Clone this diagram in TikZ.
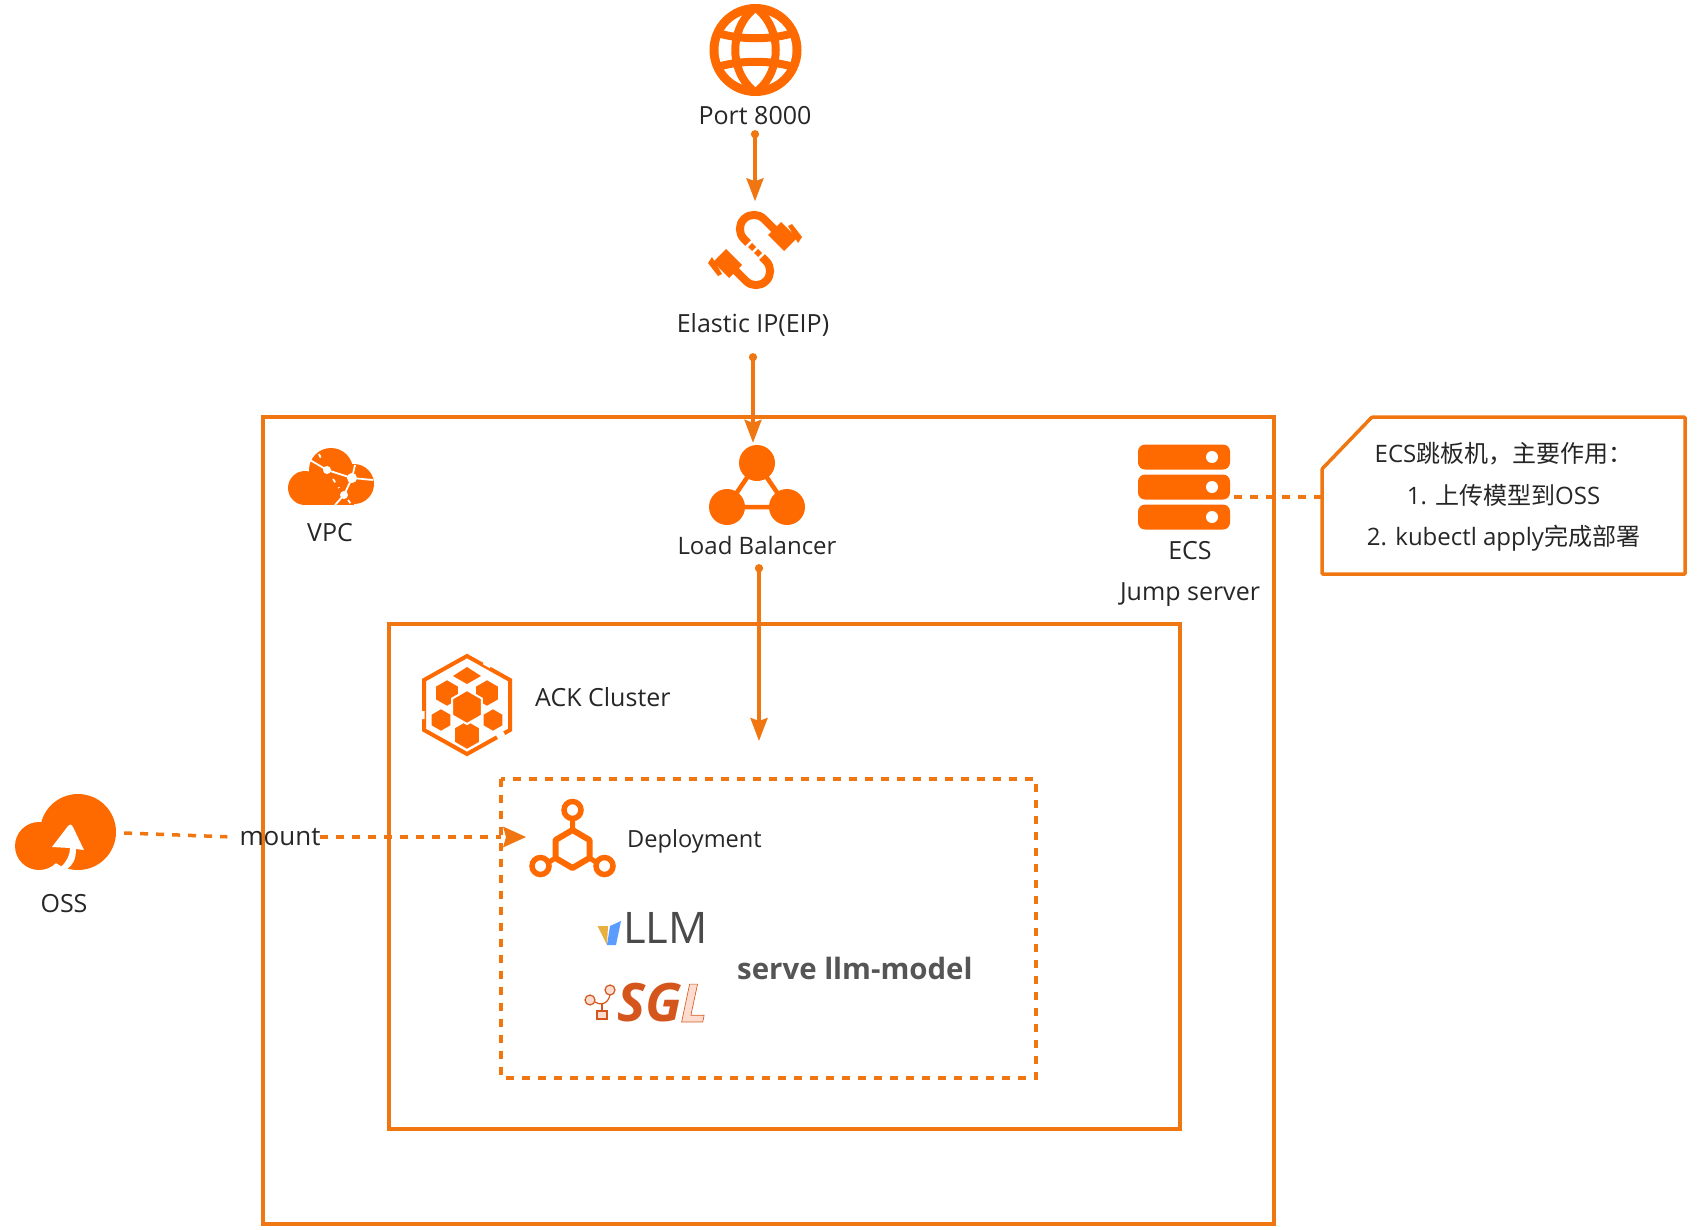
\documentclass[tikz,border=0pt]{standalone}
\usepackage{fontspec}
\usepackage{xcolor}
\usepackage{tikz}
\usetikzlibrary{positioning, arrows.meta}
\setmainfont{Open Sans}
\newfontfamily\cjk{Noto Sans CJK SC}
\newfontfamily\sglstroke[FakeBold=1.2]{Open Sans}
\definecolor{aliorange}{HTML}{FF6A00}
\definecolor{lineorange}{HTML}{EF7610}
\definecolor{labelgray}{HTML}{262626}
\definecolor{llmgray}{HTML}{4A4A4A}
\definecolor{servegray}{HTML}{555555}
\definecolor{sglred}{HTML}{D5561C}
\definecolor{sglpale}{HTML}{FBDCCF}
\definecolor{vyellow}{HTML}{E8B040}
\definecolor{vblue}{HTML}{5B9DFF}
\tikzset{
  framebox/.style={draw=lineorange, line width=3.5pt},
  dashbox/.style={draw=lineorange, line width=3.5pt, dash pattern=on 8pt off 8pt},
  flow/.style={draw=lineorange, line width=3.5pt,
    {Circle[length=8pt]}-{Stealth[length=23pt, width=17pt, inset=3pt]}},
  dashflow/.style={draw=lineorange, line width=3.5pt, dash pattern=on 8pt off 8pt},
  caption/.style={text=labelgray, font=\fontsize{25}{29}\selectfont, inner sep=0pt},
  iconspot/.style={inner sep=0pt},
  globe mark/.pic={
    \fill[aliorange] (0,0) circle (46);
    \fill[white] (0,0) circle (37);
    \draw[aliorange, line width=8pt] (-3,-40) .. controls (-26,-20) and (-26,20) .. (-3,40);
    \draw[aliorange, line width=8pt] (3,-40) .. controls (26,-20) and (26,20) .. (3,40);
    \draw[aliorange, line width=8pt] (-38,-17) .. controls (-15,-10) and (15,-10) .. (38,-17);
    \draw[aliorange, line width=8pt] (-38,17) .. controls (-15,10) and (15,10) .. (38,17);
  },
  eip mark/.pic={
    \foreach \turn in {0,180} {
      \begin{scope}[rotate=\turn]
        \draw[aliorange, line width=8pt] (-7,-7) -- (-11,-11)
          .. controls (-16.5,-16.5) and (-16.5,-25.5) .. (-11,-31)
          .. controls (-5.5,-36.5) and (3.5,-36.5) .. (9,-31) -- (20,-20);
        \fill[aliorange] (-3,-7) -- (1,-3) -- (-3,1) -- (-7,-3) -- cycle;
        \fill[aliorange] (13,-15) -- (26,-28) -- (42,-12) -- (29,1) -- cycle;
        \fill[aliorange] (33,-24) -- (37,-26) -- (47,-13) -- (43,-7) -- cycle;
      \end{scope}
    }
  },
  balancer mark/.pic={
    \draw[aliorange, line width=4.5pt] (0,-22) -- (-30,22) -- (30,22) -- cycle;
    \fill[aliorange] (0,-22) circle (18) (-30,22) circle (18) (30,22) circle (18);
  },
  vpc mark/.pic={
    \fill[aliorange] (-25,10) circle (17) (1,-8) circle (22) (24,6) circle (20);
    \fill[aliorange] (-25,8) rectangle (24,27);
    \draw[white, line width=1.8pt] (-20,-18) -- (-3,-8) -- (22,0) -- (14,17) -- (5,27);
    \draw[white, line width=1.8pt] (22,0) -- (43,2) (22,0) -- (25,-13);
    \fill[white] (-3,-8) circle (4) (22,0) circle (5) (14,17) circle (4);
    \draw[white, line width=1.8pt, dash pattern=on 4pt off 6pt] (-11,-24) -- (-7,-15) (3,1) -- (9,10) (18,22) -- (21,26);
  },
  server mark/.pic={
    \foreach \row in {-30,0,30} {
      \fill[aliorange, rounded corners=7pt] (-46,\row-12.5) rectangle (46,\row+12.5);
      \fill[white] (28,\row) circle (6);
    }
  },
  cluster mark/.pic={
    \draw[aliorange, line width=4pt] (0,-49) -- (43,-25) -- (43,25) -- (0,49) -- (-43,25) -- (-43,-25) -- cycle;
    \foreach \spotx/\spoty/\gapr in {-20/-12/14, 20/-12/14, -26/15/12, 26/15/12, 0/30/15, 0/2/17} {
      \fill[aliorange, draw=white, line width=2pt] (\spotx,\spoty-\gapr) -- (\spotx+.87*\gapr,\spoty-.5*\gapr) -- (\spotx+.87*\gapr,\spoty+.5*\gapr)
        -- (\spotx,\spoty+\gapr) -- (\spotx-.87*\gapr,\spoty+.5*\gapr) -- (\spotx-.87*\gapr,\spoty-.5*\gapr) -- cycle;
    }
    \fill[aliorange] (0,-38) -- (14,-29) -- (0,-21) -- (-14,-29) -- cycle;
    \draw[white, line width=5pt] (17,-43) -- (24,-39) (-45,6) -- (-45,14) (30,32) -- (37,28);
  },
  bucket mark/.pic={
    \fill[aliorange] (8,-1) circle (38) (-31,13) circle (24);
    \fill[white] (-2,-7) .. controls (1,-9) and (1,-9) .. (3,-6) -- (14,17) -- (6,16)
      .. controls (6,26) and (3,32) .. (-3,36) -- (-9,34)
      .. controls (-3,28) and (0,22) .. (0,15) -- (-18,14) -- cycle;
  },
  deploy mark/.pic={
    \draw[aliorange, line width=6pt, line join=round] (0,-18) -- (17,-8) -- (17,10) -- (0,20) -- (-17,10) -- (-17,-8) -- cycle;
    \draw[aliorange, line width=5pt] (0,-18) -- (0,-30) (-17,10) -- (-25,15) (17,10) -- (25,15);
    \draw[aliorange, line width=5.5pt, fill=white] (0,-38) circle (8.5) (-32,18) circle (8.5) (32,18) circle (8.5);
  },
}

\begin{document}
\begin{tikzpicture}[x=1pt, y=-1pt]
  \useasboundingbox (0,0) rectangle (1697,1229);

  % frames
  \draw[framebox] (263,417) rectangle (1274,1224);
  \draw[framebox] (389,624) rectangle (1180,1129);
  \draw[dashbox] (501,779) rectangle (1036,1078);
  \draw[framebox, rounded corners=1pt] (1372,417) -- (1685,417) -- (1685,574) -- (1322,574) -- (1322,469) -- cycle;

  % icons
  \pic at (755.5,50) {globe mark};
  \pic at (755,250) {eip mark};
  \pic at (757,485) {balancer mark};
  \pic at (330,478) {vpc mark};
  \pic at (1184,487) {server mark};
  \pic at (467,705) {cluster mark};
  \pic at (70,833) {bucket mark};
  \pic at (572.5,848) {deploy mark};

  \node[iconspot, minimum width=92pt, minimum height=97pt] (eipicon) at (755,250) {};
  \node[iconspot, minimum width=92pt, minimum height=84pt] (lbicon) at (753,485) {};
  \node[iconspot, minimum width=92pt, minimum height=26pt] (ecsicon) at (1188,497) {};
  \node[iconspot, minimum width=108pt, minimum height=80pt] (ossicon) at (70,833) {};
  \node[iconspot, minimum width=94pt, minimum height=80pt] (deployicon) at (573,838) {};

  % labels
  \node[caption, minimum height=28pt] (portlabel) at (755,116) {Port 8000};
  \node[caption, minimum height=56pt] (eiplabel) at (753,325) {Elastic IP(EIP)};
  \node[caption, minimum height=38pt, font=\fontsize{24}{28}\selectfont] (lblabel) at (757,545) {Load Balancer};
  \node[caption] (vpclabel) at (330,533) {VPC};
  \node[caption] (ecslabel) at (1190,551) {ECS};
  \node[caption, below=22pt of ecslabel] (jumplabel) {Jump server};
  \node[caption, anchor=west] (acklabel) at (535,697) {ACK Cluster};
  \node[caption] (osslabel) at (64,904) {OSS};
  \node[caption, anchor=west, font=\fontsize{23.6}{28}\selectfont] (deploylabel) at (627,841) {Deployment};
  \node[text=labelgray, font=\fontsize{26}{30}\selectfont, inner xsep=6pt, inner ysep=0pt] (mountlabel) at (280,837) {mount};
  \node[text=servegray, font=\fontsize{29.4}{34}\selectfont\bfseries, anchor=west, inner sep=0pt] (servelabel) at (737,968) {serve llm-model};

  % note
  \node[text=labelgray, font=\fontsize{24}{41.7}\selectfont, align=center, inner sep=0pt,
        minimum width=363pt, minimum height=157pt] (note) at (1503.5,497)
    {ECS{\cjk 跳板机，主要作用：}\\1. {\cjk 上传模型到}OSS\\2. kubectl apply{\cjk 完成部署}};

  % vLLM logo
  \fill[vyellow] (597.5,926) -- (608,926) -- (607,945) -- cycle;
  \fill[vblue] (610,926) -- (621,921) -- (616,945) -- (607,945) -- cycle;
  \node[text=llmgray, font=\fontsize{43.5}{46}\selectfont, anchor=west, inner sep=0pt] (llmlabel) at (623,928) {LLM};

  % SGL logo
  \draw[sglred, line width=1.2pt, fill=sglpale] (590,1000) circle (5) (610,990) circle (5);
  \draw[sglred, line width=1.2pt] (595,1002) .. controls (600,1006) and (608,1004) .. (610,995);
  \draw[sglred, line width=1.2pt] (602,1004) -- (602,1011);
  \draw[sglred, line width=1.2pt, fill=sglpale] (597,1011) rectangle (607,1019);
  \node[text=sglred, font=\fontsize{53}{56}\selectfont\bfseries\itshape, anchor=west, inner sep=0pt] (sgllabel) at (617,1003) {SG};
  \node[text=sglpale, font=\sglstroke\fontsize{53}{56}\selectfont\bfseries\itshape, anchor=west, inner sep=0pt, right=-2pt of sgllabel]
    (sglend) {\special{pdf:code 0.84 0.34 0.11 RG}L};

  % connectors
  \draw[flow] (portlabel.south) -- (eipicon.north);
  \draw[flow] (eiplabel.south) -- (lbicon.north);
  \coordinate (deployin) at (759,741);
  \draw[flow] (lblabel.south -| deployin) -- (deployin);
  \draw[dashflow] (ecsicon.east) -- (note.west);
  \draw[dashflow, shorten >=6pt] (ossicon.east) -- (mountlabel.west);
  \draw[dashflow, shorten <=-7pt, shorten >=25pt] (mountlabel.east) -- (mountlabel.east -| deployicon.west);
  \fill[lineorange] (503,826.5) -- (526,837) -- (503,847.5) -- (506,837) -- cycle;
\end{tikzpicture}
\end{document}
